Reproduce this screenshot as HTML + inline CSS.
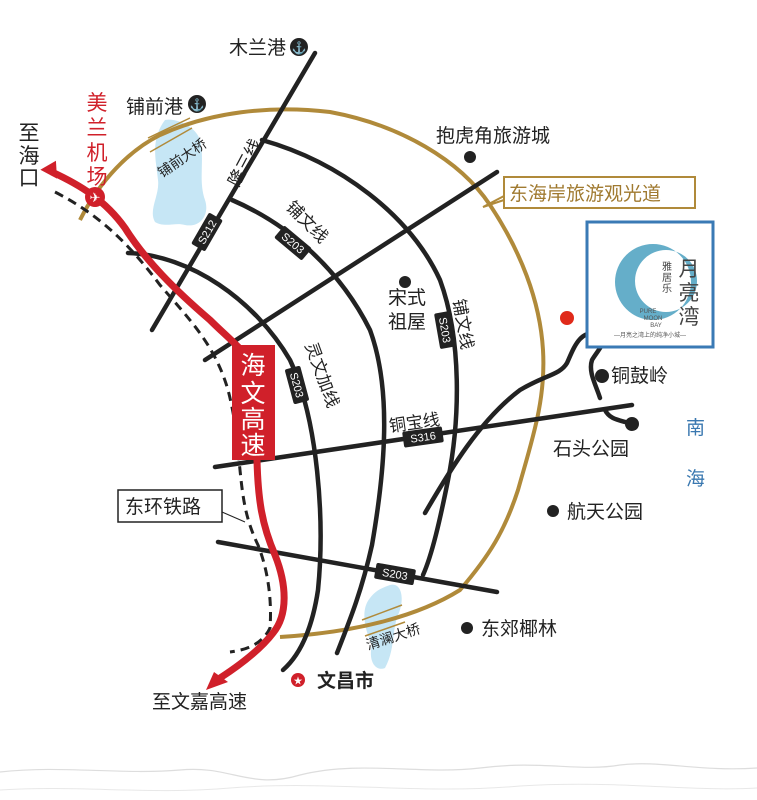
<!DOCTYPE html>
<html><head><meta charset="utf-8"><style>
body{margin:0;background:#fff}
svg{display:block}
text{font-family:"Liberation Sans","Noto Sans CJK SC",sans-serif}
</style></head><body>
<svg width="757" height="800" viewBox="0 0 757 800" xmlns="http://www.w3.org/2000/svg">
<!-- lakes -->
<path d="M165,120 C175,118 195,125 200,140 C205,160 198,180 205,200 C210,215 200,228 185,225 C175,222 165,228 155,222 C148,210 160,195 158,180 C156,160 150,140 165,120Z" fill="#c6e6f5"/>
<path d="M390,585 C402,582 405,600 398,615 C392,630 395,650 385,668 C375,672 368,660 372,645 C365,630 360,610 370,598 C376,590 382,588 390,585Z" fill="#c6e6f5"/>
<!-- gold ring -->
<path d="M80,220 C100,180 130,150 160,135 C210,112 270,105 330,112 C400,125 460,160 490,205 C520,250 540,300 543,350 C546,400 532,440 518,490 C505,530 490,555 460,590 C420,615 360,632 280,637" fill="none" stroke="#b08a3a" stroke-width="4"/>
<path d="M148,138 L190,118 M150,152 L192,128 M362,620 L402,605 M365,636 L405,622" stroke="#b08a3a" stroke-width="1.5"/>
<!-- black roads -->
<g fill="none" stroke="#222" stroke-width="4.5" stroke-linecap="round">
<path d="M315,53 L152,330"/>
<path d="M497,172 L205,360"/>
<path d="M128,253 C190,255 255,300 290,360 C318,420 325,520 318,590 C312,630 300,655 283,670"/>
<path d="M232,200 C290,225 340,270 370,330 C392,390 385,470 372,545 C362,590 350,620 337,653"/>
<path d="M262,140 C340,162 410,215 440,280 C462,340 460,420 448,480 C440,520 432,555 423,575"/>
<path d="M215,467 L632,405"/>
<path d="M218,542 L497,592"/>
<path d="M425,513 C450,470 480,420 520,390 C545,375 560,375 567,363 C575,345 580,330 600,333 C612,335 598,350 592,360 C588,372 596,385 600,398"/>
<path d="M605,410 C610,420 620,420 632,424"/>
</g>
<!-- railway dashed -->
<path d="M55,192 C100,215 130,245 160,285 C190,320 215,345 228,390 C236,420 238,450 240,470 C243,500 246,520 258,545 C268,570 272,600 270,628 C262,645 245,650 230,652" fill="none" stroke="#222" stroke-width="3" stroke-dasharray="9,6"/>
<!-- red highway -->
<path d="M52,172 C80,185 105,200 125,228 C145,260 175,290 210,320 C225,335 238,345 250,360 L257,460 C258,500 262,525 275,555 C287,585 288,615 273,633 C260,650 240,665 220,678" fill="none" stroke="#d0202a" stroke-width="7" stroke-linejoin="round"/>
<polygon points="42,164 60,164 52,180" fill="#d0202a" transform="rotate(-30 52,170)"/>
<polygon points="206,690 214,672 228,682" fill="#d0202a"/>
<rect x="232" y="345" width="43" height="115" fill="#d0202a"/>
<g font-size="25" fill="#fff" text-anchor="middle"><text x="253" y="374">海</text><text x="253" y="402">文</text><text x="253" y="428">高</text><text x="253" y="454">速</text></g>
<!-- airport -->
<circle cx="95" cy="197" r="10" fill="#d0202a"/><text x="95" y="202" font-size="13" fill="#fff" text-anchor="middle">✈</text>
<g font-size="21" fill="#d0202a" text-anchor="middle"><text x="97" y="110">美</text><text x="97" y="135">兰</text><text x="97" y="160">机</text><text x="97" y="184">场</text></g>
<g font-size="21" fill="#222" text-anchor="middle"><text x="29" y="140">至</text><text x="29" y="163">海</text><text x="29" y="185">口</text></g>
<!-- road labels -->
<g font-size="11" fill="#fff" text-anchor="middle">
<g transform="translate(207,232) rotate(-60)"><rect x="-18" y="-8" width="36" height="16" rx="2" fill="#222"/><text y="4">S212</text></g>
<g transform="translate(293,243) rotate(40)"><rect x="-18" y="-8" width="36" height="16" rx="2" fill="#222"/><text y="4">S203</text></g>
<g transform="translate(445,330) rotate(80)"><rect x="-18" y="-8" width="36" height="16" rx="2" fill="#222"/><text y="4">S203</text></g>
<g transform="translate(297,385) rotate(75)"><rect x="-18" y="-8" width="36" height="16" rx="2" fill="#222"/><text y="4">S203</text></g>
<g transform="translate(423,437) rotate(-8)"><rect x="-20" y="-8" width="40" height="16" rx="2" fill="#222"/><text y="4">S316</text></g>
<g transform="translate(395,574) rotate(10)"><rect x="-20" y="-8" width="40" height="16" rx="2" fill="#222"/><text y="4">S203</text></g>
</g>
<g font-size="17" fill="#222">
<text transform="translate(238,188) rotate(-62)">隆三线</text>
<text transform="translate(285,208) rotate(45)">铺文线</text>
<text transform="translate(453,300) rotate(80)">铺文线</text>
<text transform="translate(305,345) rotate(70)">灵文加线</text>
<text transform="translate(390,432) rotate(-8)">铜宝线</text>
<text font-size="14" transform="translate(162,178) rotate(-35)">铺前大桥</text>
<text font-size="14" transform="translate(368,650) rotate(-18)">清澜大桥</text>
</g>
<!-- places -->
<g font-size="19" fill="#222">
<text x="229" y="54">木兰港</text><text x="126" y="113">铺前港</text>
<text x="436" y="142">抱虎角旅游城</text>
<text x="388" y="304">宋式</text><text x="388" y="328">祖屋</text>
<text x="611" y="382">铜鼓岭</text><text x="553" y="455">石头公园</text>
<text x="567" y="518">航天公园</text><text x="481" y="635">东郊椰林</text>
<text x="317" y="687" font-weight="bold">文昌市</text><text x="152" y="708">至文嘉高速</text>
</g>
<g fill="#222"><circle cx="299" cy="47" r="9"/><circle cx="197" cy="104" r="9"/><circle cx="470" cy="157" r="6"/><circle cx="405" cy="282" r="6"/><circle cx="602" cy="376" r="7"/><circle cx="632" cy="424" r="7"/><circle cx="553" cy="511" r="6"/><circle cx="467" cy="628" r="6"/></g>
<g font-size="12" fill="#fff" text-anchor="middle"><text x="299" y="52">⚓</text><text x="197" y="109">⚓</text></g>
<circle cx="298" cy="680" r="7" fill="#d0202a"/><text x="298" y="684" font-size="9" fill="#fff" text-anchor="middle">★</text>
<circle cx="567" cy="318" r="7" fill="#e02a1a"/>
<!-- tourism box -->
<rect x="504" y="177" width="191" height="31" fill="#fff" stroke="#b08a3a" stroke-width="2"/>
<path d="M504,196 L483,207 L504,200" fill="none" stroke="#b08a3a" stroke-width="2"/>
<text x="509" y="200" font-size="19" fill="#a07a30">东海岸旅游观光道</text>
<!-- rail label -->
<rect x="118" y="490" width="104" height="32" fill="#fff" stroke="#222" stroke-width="1.5"/>
<text x="125" y="513" font-size="19" fill="#222">东环铁路</text>
<path d="M222,512 L245,522" stroke="#222" stroke-width="1"/>
<!-- logo -->
<rect x="587" y="222" width="126" height="125" fill="#fff" stroke="#3a7ab5" stroke-width="3"/>
<path fill-rule="evenodd" d="M653,244 A38,38 0 1 0 653,320 A38,38 0 1 0 653,244Z M666,250 A31,31 0 1 0 666,312 A31,31 0 1 0 666,250Z" fill="#4aa0c0" opacity="0.85"/>
<g font-size="10" fill="#444" text-anchor="middle"><text x="667" y="270">雅</text><text x="667" y="281">居</text><text x="667" y="292">乐</text></g>
<g font-size="21" fill="#444" text-anchor="middle"><text x="689" y="276">月</text><text x="689" y="300">亮</text><text x="689" y="324">湾</text></g>
<g font-size="6" fill="#555" text-anchor="middle"><text x="648" y="313">PURE</text><text x="653" y="320">MOON</text><text x="656" y="327">BAY</text><text x="650" y="337">—月亮之湾上的纯净小城—</text></g>
<g font-size="19" fill="#3a78b0"><text x="686" y="434">南</text><text x="686" y="485">海</text></g>
<!-- mountains -->
<path d="M0,772 C60,765 120,775 180,770 C230,765 250,790 300,775 C360,760 420,775 480,768 C540,760 580,772 620,765 C660,760 700,772 757,768" fill="none" stroke="#ddd" stroke-width="1.2"/>
<path d="M0,790 C80,785 150,795 230,788 C330,780 420,795 520,786 C620,780 690,792 757,788" fill="none" stroke="#e8e8e8" stroke-width="1"/>
</svg>
</body></html>
